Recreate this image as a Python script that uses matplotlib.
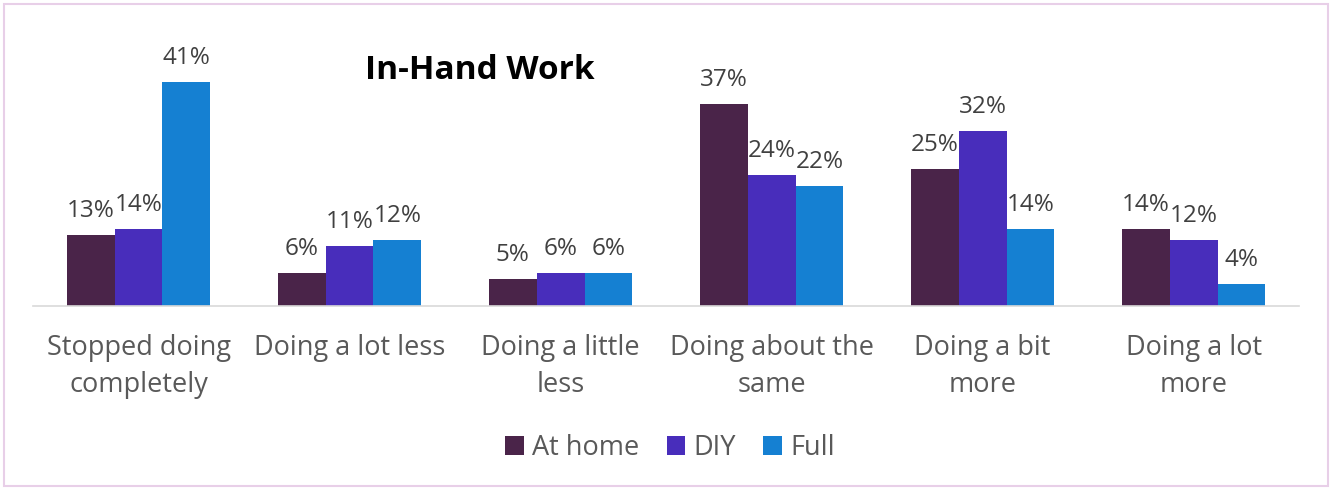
import numpy as np
import matplotlib.pyplot as plt
import matplotlib.patches as patches

categories = ["Stopped doing\ncompletely", "Doing a lot less", "Doing a little\nless",
              "Doing about the\nsame", "Doing a bit\nmore", "Doing a lot\nmore"]
series = ["At home", "DIY", "Full"]
at_home = [13, 6, 5, 37, 25, 14]
diy = [14, 11, 6, 24, 32, 12]
full = [41, 12, 6, 22, 14, 4]
colors = ["#4a2449", "#482dbb", "#1580d2"]

plt.rcParams['font.family'] = ['Open Sans', 'DejaVu Sans']

fig = plt.figure(figsize=(13.32, 4.9), dpi=100)
ax = fig.add_axes([0.0248, 0.3755, 0.9505, 0.502])

x = np.arange(len(categories))
w = 0.227
for k, vals in enumerate([at_home, diy, full]):
    pos = x + (k - 1) * w
    ax.bar(pos, vals, width=w, color=colors[k], label=series[k])
    for p, v in zip(pos, vals):
        ax.text(p, v + 2.2, f"{v}%", ha='center', va='bottom', fontsize=17.5,
                color='#404040', clip_on=False)

ax.set_xlim(-0.5, len(categories) - 0.5)
ax.set_ylim(0, 45)
ax.set_yticks([])
ax.set_xticks(x)
ax.set_xticklabels(categories, fontsize=19.5, color='#595959', linespacing=1.45)
ax.tick_params(axis='x', length=0, pad=20)
for s in ['top', 'right', 'left']:
    ax.spines[s].set_visible(False)
ax.spines['bottom'].set_color('#d9d9d9')
ax.spines['bottom'].set_linewidth(1.2)

fig.text(0.36, 0.857, "In-Hand Work", ha='center', va='center', fontsize=24,
         fontweight='bold', color='black')

fig.legend(loc='center', bbox_to_anchor=(0.503, 0.085), ncol=3, frameon=False,
           fontsize=19.5, labelcolor='#595959', handlelength=0.7, handleheight=0.7,
           handletextpad=0.3, columnspacing=1.0)

border = patches.Rectangle((0.003, 0.008), 0.994, 0.984, transform=fig.transFigure,
                           fill=False, edgecolor='#e8cfe8', lw=1.5)
fig.patches.append(border)

plt.savefig("out.png", dpi=100)
